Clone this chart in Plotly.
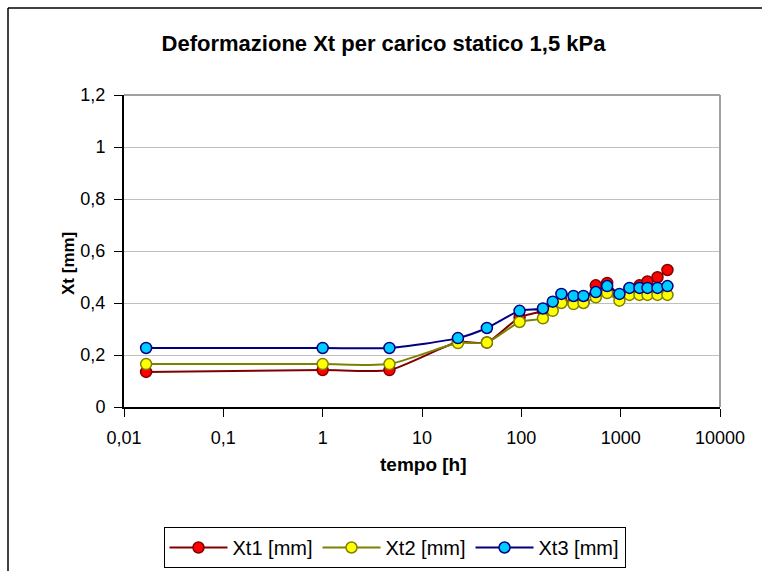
import plotly.graph_objects as go

# time [h]
tempo = [0.0167, 1, 4.7, 23, 45, 96, 165, 207, 253, 335, 422, 562, 731, 972,
         1227, 1546, 1862, 2348, 2958]
xt1 = [0.135, 0.142, 0.142, 0.250, 0.248, 0.345, 0.370, 0.392, 0.410, 0.400, 0.402,
       0.468, 0.477, 0.430, 0.455, 0.468, 0.483, 0.499, 0.527]
xt2 = [0.165, 0.165, 0.165, 0.246, 0.248, 0.327, 0.341, 0.370, 0.400, 0.396, 0.400,
       0.422, 0.438, 0.409, 0.431, 0.431, 0.431, 0.431, 0.431]
xt3 = [0.227, 0.227, 0.227, 0.265, 0.304, 0.370, 0.379, 0.405, 0.435, 0.427, 0.427,
       0.442, 0.465, 0.435, 0.458, 0.458, 0.458, 0.458, 0.465]

series_names = ["Xt1 [mm]", "Xt2 [mm]", "Xt3 [mm]"]
line_colors = ["#800000", "#808000", "#000080"]
fill_colors = ["#FF0000", "#FFFF00", "#00CCFF"]

x_tickvals = [0.01, 0.1, 1, 10, 100, 1000, 10000]
x_ticktext = ["0,01", "0,1", "1", "10", "100", "1000", "10000"]
y_tickvals = [0, 0.2, 0.4, 0.6, 0.8, 1.0, 1.2]
y_ticktext = ["0", "0,2", "0,4", "0,6", "0,8", "1", "1,2"]

fig = go.Figure()
for name, ys, lc, fc in zip(series_names, [xt1, xt2, xt3], line_colors, fill_colors):
    fig.add_trace(go.Scatter(
        x=tempo, y=ys, name=name, mode="lines+markers",
        line=dict(color=lc, width=2, shape="spline", smoothing=0.6),
        marker=dict(size=11, color=fc, line=dict(color=lc, width=1.5)),
    ))

W, H = 762, 571
L, R, T, B = 124, 42, 95, 164
pw, ph = W - L - R, H - T - B


def px_x(x):
    return (x - L) / pw


def px_y(y):
    return (H - B - y) / ph


fig.update_layout(
    width=W, height=H,
    margin=dict(l=L, r=R, t=T, b=B, pad=0, autoexpand=False),
    paper_bgcolor="white", plot_bgcolor="white",
    font=dict(family="Arial, Liberation Sans, sans-serif", size=18, color="black"),
    title=dict(text="<b>Deformazione Xt per carico statico 1,5 kPa</b>",
               x=383.5 / W, xanchor="center", xref="container",
               y=1 - 43 / H, yanchor="middle", yref="container",
               font=dict(size=22, color="black")),
    showlegend=True,
    legend=dict(orientation="h", x=px_x(394.5), xanchor="center",
                y=px_y(527), yanchor="top",
                bordercolor="black", borderwidth=1, bgcolor="white",
                font=dict(size=20), itemwidth=58, traceorder="normal"),
    xaxis=dict(type="log", range=[-2, 4], tickvals=x_tickvals, ticktext=x_ticktext,
               showgrid=False, zeroline=False, showline=True, linecolor="black",
               linewidth=2, ticks="outside", ticklen=8, tickcolor="black",
               ticklabelstandoff=5, tickfont=dict(size=18), automargin=False),
    yaxis=dict(range=[0, 1.2], tickvals=y_tickvals, ticktext=y_ticktext,
               showgrid=True, gridcolor="#C0C0C0", gridwidth=1, zeroline=False,
               showline=True, linecolor="black", linewidth=2, automargin=False,
               ticks="outside", ticklen=8, tickcolor="black",
               ticklabelstandoff=5, tickfont=dict(size=18)),
    annotations=[
        dict(text="<b>tempo [h]</b>", xref="paper", yref="paper",
             x=px_x(423), y=px_y(464), xanchor="center", yanchor="middle",
             showarrow=False, font=dict(size=19)),
        dict(text="<b>Xt [mm]</b>", xref="paper", yref="paper", textangle=-90,
             x=px_x(68), y=px_y(264), xanchor="center", yanchor="middle",
             showarrow=False, font=dict(size=17)),
    ],
    shapes=[
        # plot area gray border (top/right)
        dict(type="line", xref="paper", yref="paper", x0=0, x1=1, y0=1, y1=1,
             line=dict(color="#A0A0A0", width=2), layer="above"),
        dict(type="line", xref="paper", yref="paper", x0=1, x1=1, y0=0, y1=1,
             line=dict(color="#A0A0A0", width=2), layer="above"),
        # outer chart frame (continues past the right and bottom edges)
        dict(type="line", xref="paper", yref="paper",
             x0=px_x(8), x1=px_x(W + 20), y0=px_y(8), y1=px_y(8),
             line=dict(color="black", width=1.5)),
        dict(type="line", xref="paper", yref="paper",
             x0=px_x(8), x1=px_x(8), y0=px_y(8), y1=px_y(H + 20),
             line=dict(color="black", width=1.5)),
    ],
)

fig.write_html(
    "out.html",
    config={"displayModeBar": False},
    post_script="document.body.style.margin='0';document.body.style.overflow='hidden';",
)
